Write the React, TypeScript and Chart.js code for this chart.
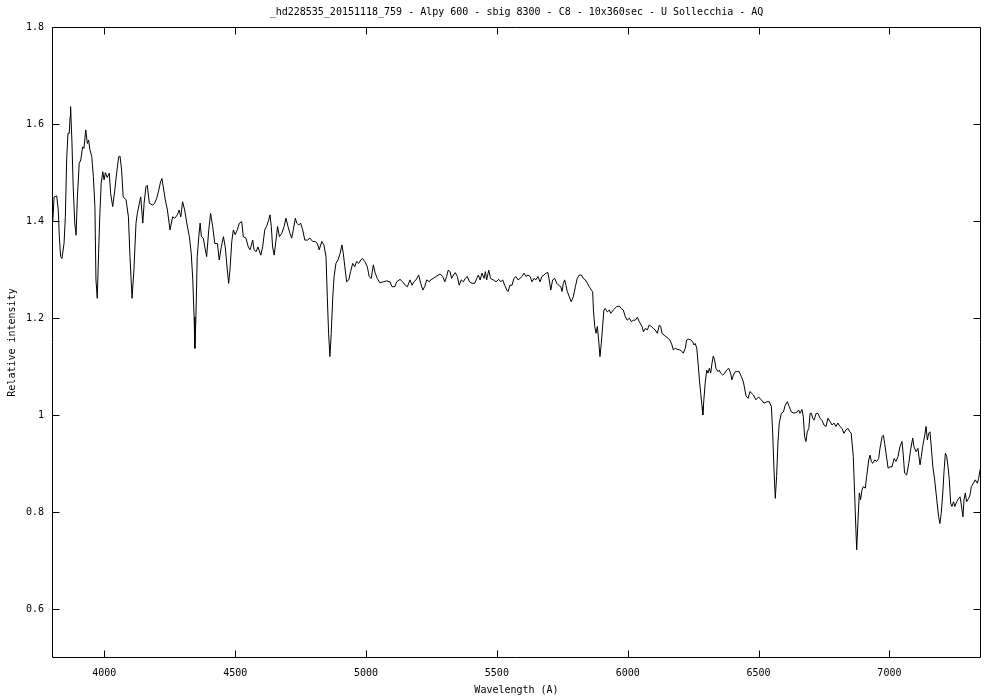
import React, { useEffect, useRef } from "react";
import { Chart, registerables } from "chart.js";

Chart.register(...registerables);

const TITLE = "_hd228535_20151118_759 - Alpy 600 - sbig 8300 - C8 - 10x360sec - U Sollecchia - AQ";
const X_LABEL = "Wavelength (A)";
const Y_LABEL = "Relative intensity";
const X_TICKS = [4000, 4500, 5000, 5500, 6000, 6500, 7000];
const Y_TICKS = [0.6, 0.8, 1.0, 1.2, 1.4, 1.6, 1.8];
const X_MIN = 3800;
const X_MAX = 7350;
const Y_MIN = 0.5;
const Y_MAX = 1.8;

const WAVELENGTH = [
  3803, 3808, 3818, 3824, 3828, 3833, 3838, 3846, 3851, 3856,
  3861, 3866, 3869, 3871, 3876, 3881, 3887, 3892, 3897, 3904,
  3910, 3917, 3922, 3929, 3935, 3940, 3945, 3952, 3958, 3964,
  3968, 3973, 3978, 3983, 3988, 3994, 3999, 4004, 4011, 4019,
  4024, 4032, 4040, 4047, 4055, 4060, 4066, 4072, 4083, 4092,
  4098, 4106, 4113, 4121, 4126, 4134, 4139, 4147, 4152, 4159,
  4164, 4172, 4185, 4192, 4200, 4208, 4215, 4220, 4225, 4233,
  4241, 4251, 4261, 4269, 4279, 4286, 4292, 4299, 4307, 4315,
  4325, 4332, 4338, 4343, 4346, 4350, 4355, 4361, 4366, 4371,
  4378, 4384, 4391, 4399, 4406, 4414, 4422, 4432, 4439, 4447,
  4455, 4462, 4470, 4475, 4480, 4487, 4493, 4500, 4508, 4516,
  4525, 4531, 4541, 4550, 4557, 4567, 4572, 4580, 4587, 4598,
  4605, 4613, 4620, 4628, 4633, 4638, 4643, 4649, 4656, 4662,
  4669, 4678, 4687, 4694, 4702, 4709, 4716, 4722, 4730, 4735,
  4743, 4750, 4758, 4766, 4776, 4786, 4796, 4806, 4814, 4821,
  4831, 4839, 4847, 4852, 4857, 4862, 4867, 4873, 4878, 4885,
  4893, 4901, 4908, 4913, 4919, 4926, 4934, 4941, 4949, 4957,
  4964, 4972, 4980, 4987, 4995, 5005, 5012, 5020, 5028, 5035,
  5043, 5053, 5066, 5079, 5092, 5099, 5110, 5117, 5130, 5140,
  5150, 5158, 5168, 5176, 5183, 5191, 5201, 5209, 5217, 5224,
  5232, 5242, 5247, 5257, 5270, 5283, 5293, 5301, 5308, 5314,
  5321, 5327, 5334, 5341, 5349, 5356, 5364, 5372, 5379, 5387,
  5395, 5405, 5415, 5423, 5429, 5436, 5443, 5451, 5456, 5461,
  5469, 5476, 5486, 5497, 5507, 5515, 5522, 5530, 5538, 5543,
  5550, 5558, 5565, 5573, 5581, 5588, 5596, 5604, 5611, 5619,
  5627, 5634, 5642, 5649, 5657, 5665, 5672, 5680, 5688, 5695,
  5700, 5706, 5713, 5721, 5729, 5736, 5744, 5749, 5754, 5759,
  5764, 5769, 5777, 5784, 5792, 5800, 5807, 5815, 5823, 5830,
  5838, 5846, 5853, 5861, 5866, 5869, 5874, 5879, 5884, 5889,
  5894, 5899, 5904, 5909, 5914, 5922, 5930, 5935, 5945, 5958,
  5968, 5975, 5983, 5991, 5998, 6006, 6014, 6021, 6029, 6037,
  6044, 6055, 6060, 6067, 6075, 6082, 6090, 6098, 6105, 6113,
  6121, 6126, 6131, 6139, 6146, 6154, 6161, 6169, 6174, 6182,
  6189, 6197, 6205, 6212, 6220, 6225, 6233, 6241, 6248, 6253,
  6258, 6264, 6269, 6274, 6279, 6284, 6287, 6291, 6296, 6302,
  6307, 6312, 6317, 6322, 6327, 6332, 6337, 6345, 6350, 6355,
  6363, 6371, 6378, 6386, 6393, 6398, 6404, 6411, 6419, 6426,
  6434, 6442, 6452, 6460, 6467, 6480, 6490, 6500, 6510, 6521,
  6531, 6541, 6549, 6554, 6559, 6564, 6569, 6574, 6579, 6587,
  6595, 6602, 6610, 6617, 6625, 6633, 6640, 6648, 6653, 6658,
  6666, 6671, 6676, 6681, 6686, 6692, 6697, 6702, 6707, 6712,
  6720, 6727, 6735, 6742, 6750, 6758, 6765, 6773, 6781, 6788,
  6796, 6803, 6811, 6819, 6826, 6834, 6842, 6849, 6854, 6862,
  6867, 6872, 6875, 6880, 6885, 6890, 6895, 6900, 6908, 6913,
  6921, 6926, 6931, 6936, 6944, 6951, 6959, 6964, 6972, 6977,
  6982, 6987, 6995, 7002, 7010, 7018, 7025, 7033, 7040, 7048,
  7053, 7058, 7066, 7074, 7081, 7089, 7094, 7102, 7109, 7117,
  7122, 7127, 7135, 7140, 7145, 7150, 7155, 7160, 7166, 7173,
  7181, 7188, 7193, 7198, 7204, 7209, 7214, 7219, 7224, 7229,
  7234, 7239, 7245, 7250, 7257, 7265, 7270, 7275, 7281, 7285,
  7290, 7295, 7303, 7308, 7313, 7321, 7328, 7336, 7341, 7346,
  7350,
];

const INTENSITY = [
  1.399, 1.450, 1.452, 1.423, 1.368, 1.327, 1.323, 1.354, 1.409, 1.526,
  1.581, 1.581, 1.615, 1.636, 1.567, 1.471, 1.396, 1.371, 1.450, 1.519,
  1.526, 1.553, 1.550, 1.588, 1.560, 1.567, 1.547, 1.533, 1.492, 1.430,
  1.279, 1.241, 1.334, 1.416, 1.478, 1.502, 1.485, 1.500, 1.490, 1.499,
  1.457, 1.430, 1.464, 1.499, 1.533, 1.534, 1.505, 1.450, 1.444, 1.409,
  1.327, 1.241, 1.299, 1.396, 1.416, 1.437, 1.450, 1.396, 1.437, 1.471,
  1.474, 1.437, 1.433, 1.437, 1.447, 1.464, 1.481, 1.488, 1.471, 1.444,
  1.423, 1.382, 1.409, 1.406, 1.413, 1.423, 1.409, 1.440, 1.423, 1.396,
  1.368, 1.334, 1.279, 1.203, 1.138, 1.203, 1.327, 1.368, 1.396, 1.368,
  1.365, 1.347, 1.327, 1.382, 1.416, 1.389, 1.354, 1.354, 1.320, 1.347,
  1.368, 1.347, 1.299, 1.272, 1.299, 1.358, 1.382, 1.372, 1.382, 1.396,
  1.399, 1.368, 1.365, 1.347, 1.341, 1.361, 1.341, 1.337, 1.347, 1.330,
  1.347, 1.382, 1.389, 1.402, 1.413, 1.389, 1.347, 1.330, 1.361, 1.389,
  1.368, 1.375, 1.389, 1.406, 1.389, 1.375, 1.365, 1.382, 1.406, 1.396,
  1.392, 1.396, 1.382, 1.361, 1.361, 1.365, 1.358, 1.358, 1.354, 1.341,
  1.358, 1.351, 1.327, 1.244, 1.169, 1.121, 1.169, 1.244, 1.286, 1.313,
  1.320, 1.334, 1.351, 1.334, 1.306, 1.275, 1.279, 1.296, 1.313, 1.306,
  1.317, 1.313, 1.320, 1.323, 1.317, 1.306, 1.286, 1.282, 1.310, 1.293,
  1.282, 1.273, 1.275, 1.277, 1.275, 1.265, 1.265, 1.275, 1.280, 1.275,
  1.268, 1.265, 1.279, 1.268, 1.275, 1.279, 1.289, 1.272, 1.258, 1.265,
  1.279, 1.275, 1.279, 1.282, 1.287, 1.291, 1.286, 1.275, 1.286, 1.299,
  1.296, 1.282, 1.289, 1.294, 1.286, 1.268, 1.279, 1.275, 1.282, 1.286,
  1.275, 1.272, 1.272, 1.282, 1.289, 1.279, 1.293, 1.282, 1.296, 1.279,
  1.299, 1.282, 1.279, 1.275, 1.280, 1.275, 1.279, 1.268, 1.258, 1.255,
  1.268, 1.268, 1.282, 1.286, 1.279, 1.282, 1.286, 1.293, 1.286, 1.289,
  1.286, 1.275, 1.282, 1.279, 1.286, 1.275, 1.286, 1.289, 1.293, 1.294,
  1.279, 1.258, 1.279, 1.282, 1.272, 1.268, 1.265, 1.255, 1.272, 1.279,
  1.268, 1.255, 1.244, 1.234, 1.244, 1.265, 1.282, 1.289, 1.289, 1.282,
  1.279, 1.272, 1.265, 1.258, 1.255, 1.217, 1.183, 1.169, 1.183, 1.155,
  1.121, 1.148, 1.183, 1.217, 1.220, 1.213, 1.217, 1.210, 1.217, 1.224,
  1.225, 1.220, 1.217, 1.203, 1.196, 1.200, 1.193, 1.196, 1.196, 1.202,
  1.193, 1.183, 1.172, 1.179, 1.176, 1.186, 1.183, 1.179, 1.176, 1.169,
  1.186, 1.183, 1.169, 1.165, 1.162, 1.159, 1.155, 1.145, 1.135, 1.138,
  1.136, 1.135, 1.133, 1.128, 1.138, 1.155, 1.157, 1.155, 1.152, 1.145,
  1.148, 1.138, 1.107, 1.073, 1.045, 1.018, 1.001, 1.032, 1.066, 1.093,
  1.087, 1.097, 1.087, 1.107, 1.122, 1.114, 1.097, 1.090, 1.093, 1.087,
  1.083, 1.087, 1.093, 1.097, 1.087, 1.073, 1.083, 1.090, 1.090, 1.090,
  1.080, 1.069, 1.040, 1.035, 1.049, 1.042, 1.032, 1.038, 1.032, 1.025,
  1.028, 1.028, 1.018, 0.963, 0.887, 0.829, 0.874, 0.943, 0.984, 1.004,
  1.007, 1.021, 1.028, 1.018, 1.007, 1.005, 1.005, 1.007, 1.011, 1.004,
  1.012, 0.997, 0.956, 0.946, 0.966, 0.973, 1.004, 1.004, 0.994, 0.990,
  1.004, 1.004, 0.994, 0.990, 0.980, 0.977, 0.994, 0.987, 0.980, 0.984,
  0.977, 0.984, 0.977, 0.973, 0.963, 0.970, 0.973, 0.966, 0.963, 0.915,
  0.840, 0.764, 0.723, 0.784, 0.840, 0.826, 0.846, 0.853, 0.850, 0.874,
  0.908, 0.918, 0.905, 0.901, 0.908, 0.905, 0.911, 0.932, 0.956, 0.959,
  0.942, 0.922, 0.891, 0.894, 0.894, 0.911, 0.905, 0.915, 0.935, 0.946,
  0.918, 0.881, 0.877, 0.901, 0.929, 0.953, 0.935, 0.925, 0.932, 0.898,
  0.915, 0.935, 0.959, 0.977, 0.949, 0.963, 0.966, 0.935, 0.894, 0.867,
  0.826, 0.791, 0.777, 0.798, 0.840, 0.887, 0.922, 0.915, 0.894, 0.867,
  0.819, 0.812, 0.822, 0.812, 0.822, 0.829, 0.832, 0.815, 0.791, 0.826,
  0.840, 0.822, 0.829, 0.836, 0.853, 0.860, 0.867, 0.860, 0.870, 0.887,
  0.891,
];

const FONT_FAMILY = '"DejaVu Sans Mono", "Liberation Mono", monospace';
const TICK_LEN = 7;

export default function App() {
  const canvasRef = useRef<HTMLCanvasElement>(null);

  useEffect(() => {
    const canvas = canvasRef.current;
    if (!canvas) return;
    const n = Math.min(WAVELENGTH.length, INTENSITY.length);
    const points: { x: number; y: number }[] = [];
    for (let i = 0; i < n; i++) points.push({ x: WAVELENGTH[i], y: INTENSITY[i] });

    const framePlugin = {
      id: "gnuFrame",
      afterDraw(chart: any) {
        const { ctx, chartArea } = chart;
        const xs = chart.scales.x;
        const ys = chart.scales.y;
        const L = Math.round(chartArea.left) + 0.5;
        const R = Math.round(chartArea.right) - 0.5;
        const T = Math.round(chartArea.top) + 0.5;
        const B = Math.round(chartArea.bottom) - 0.5;
        ctx.save();
        ctx.strokeStyle = "#000";
        ctx.lineWidth = 1;
        ctx.beginPath();
        ctx.rect(L, T, R - L, B - T);
        for (const v of X_TICKS) {
          const p = Math.round(xs.getPixelForValue(v)) + 0.5;
          ctx.moveTo(p, B);
          ctx.lineTo(p, B - TICK_LEN);
          ctx.moveTo(p, T);
          ctx.lineTo(p, T + TICK_LEN);
        }
        for (const v of Y_TICKS) {
          const p = Math.round(ys.getPixelForValue(v)) + 0.5;
          ctx.moveTo(L, p);
          ctx.lineTo(L + TICK_LEN, p);
          ctx.moveTo(R, p);
          ctx.lineTo(R - TICK_LEN, p);
        }
        ctx.stroke();
        ctx.fillStyle = "#000";
        ctx.font = `10px ${FONT_FAMILY}`;
        ctx.textAlign = "center";
        ctx.textBaseline = "middle";
        ctx.fillText(TITLE, (chartArea.left + chartArea.right) / 2, 12);
        ctx.restore();
      },
    };

    const chart = new Chart(canvas, {
      type: "line",
      data: {
        datasets: [
          {
            data: points,
            borderColor: "#000",
            borderWidth: 1,
            pointRadius: 0,
            tension: 0,
            fill: false,
          },
        ],
      },
      options: {
        animation: false,
        responsive: false,
        maintainAspectRatio: false,
        parsing: true,
        layout: { padding: { left: 0, right: 19, top: 27, bottom: 0 } },
        plugins: {
          legend: { display: false },
          title: { display: false },
          tooltip: { enabled: false },
        },
        scales: {
          x: {
            type: "linear",
            min: X_MIN,
            max: X_MAX,
            grid: { display: false, drawTicks: false },
            border: { display: false },
            afterBuildTicks: (s: any) => {
              s.ticks = X_TICKS.map((v) => ({ value: v }));
            },
            afterFit: (s: any) => {
              s.height = 42;
            },
            ticks: {
              autoSkip: false,
              maxRotation: 0,
              padding: 9,
              color: "#000",
              font: { family: FONT_FAMILY, size: 10 },
              callback: (v: any) => String(v),
            },
            title: {
              display: true,
              text: X_LABEL,
              color: "#000",
              font: { family: FONT_FAMILY, size: 10 },
              padding: { top: 0, bottom: 4 },
            },
          },
          y: {
            type: "linear",
            min: Y_MIN,
            max: Y_MAX,
            grid: { display: false, drawTicks: false },
            border: { display: false },
            afterBuildTicks: (s: any) => {
              s.ticks = Y_TICKS.map((v) => ({ value: v }));
            },
            afterFit: (s: any) => {
              s.width = 52;
            },
            ticks: {
              autoSkip: false,
              padding: 8,
              color: "#000",
              font: { family: FONT_FAMILY, size: 10 },
              callback: (v: any) => String(Math.round(Number(v) * 10) / 10),
            },
            title: {
              display: true,
              text: Y_LABEL,
              color: "#000",
              font: { family: FONT_FAMILY, size: 10 },
              padding: { top: 6, bottom: 0 },
            },
          },
        },
      },
      plugins: [framePlugin],
    });

    return () => chart.destroy();
  }, []);

  return (
    <div style={{ position: "fixed", left: 0, top: 0, width: 1000, height: 700, background: "#fff" }}>
      <canvas ref={canvasRef} width={1000} height={700} style={{ display: "block" }} />
    </div>
  );
}
